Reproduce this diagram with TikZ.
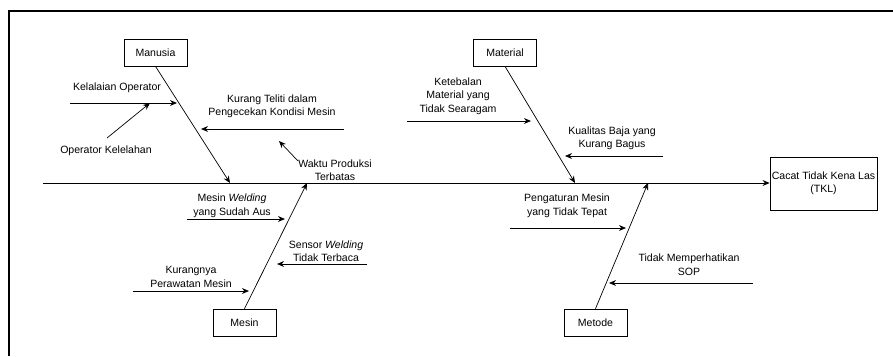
\documentclass[tikz,border=0pt]{standalone}
\usepackage{fontspec}
\setmainfont{Liberation Sans}
\usetikzlibrary{arrows.meta, positioning, calc}

\begin{document}
\begin{tikzpicture}[x=0.03cm, y=-0.03cm, line width=0.6pt,
        >={Stealth[length=6pt,width=5pt]},
        every node/.style={font=\fontsize{9}{11.5}\selectfont},
        category/.style={draw, minimum width=1.89cm, minimum height=0.81cm, inner sep=0pt},
        cause/.style={align=center, inner sep=0pt}]

            \useasboundingbox (0,0) rectangle (893,356);
            \draw[line width=1.6pt] (9,356) -- (9,11) -- (893,11);

            % kepala dan tulang utama
            \node[draw, align=center, inner sep=0pt, minimum width=3.21cm, minimum height=1.59cm] (tkl) at (823.5,183.5) {Cacat Tidak Kena Las\\(TKL)};
            \coordinate (tail) at (43,183);
            \draw[->] (tail) -- (tkl.west |- tail);

            % kategori
            \node[category] (manusia) at (155.5,52.5) {Manusia};
            \node[category] (material) at (505,52.5) {Material};
            \node[category] (mesin) at (244.5,322.5) {Mesin};
            \node[category] (metode) at (595.5,322.5) {Metode};

            \coordinate (sp1) at (230,183);
            \coordinate (sp2) at (307,183);
            \coordinate (sp3) at (575,183);
            \coordinate (sp4) at (648,183);

            \path[->]
            (manusia.south) edge (sp1)
            (mesin.north) edge (sp2)
            (material.south) edge (sp3)
            (metode.north) edge (sp4)
            ;

            % penyebab
            \node[cause] (kelalaian) at (117,88) {Kelalaian Operator};
            \node[cause] (kelelahan) at (106,151) {Operator Kelelahan};
            \node[cause] (teliti) at (272,106.5) {Kurang Teliti dalam\\Pengecekan Kondisi Mesin};
            \node[cause] (waktu) at (335,170) {Waktu Produksi\\Terbatas};
            \node[cause] (aus) at (232,206) {Mesin \textit{Welding}\\yang Sudah Aus};
            \node[cause] (sensor) at (326,251) {Sensor \textit{Welding}\\Tidak Terbaca};
            \node[cause] (rawat) at (191,277) {Kurangnya\\Perawatan Mesin};
            \node[cause] (tebal) at (458,96) {Ketebalan\\Material yang\\Tidak Searagam};
            \node[cause] (kualitas) at (612,138.5) {Kualitas Baja yang\\Kurang Bagus};
            \node[cause] (atur) at (567,206) {Pengaturan Mesin\\yang Tidak Tepat};
            \node[cause] (sop) at (689,264.5) {Tidak Memperhatikan\\SOP};

            \coordinate (a1) at (70,103);   \coordinate (b1) at (177,103);
            \coordinate (a2) at (107,138);  \coordinate (b2) at (150,103);
            \coordinate (a3) at (344,129);  \coordinate (b3) at (201,129);
            \coordinate (a4) at (298,161);  \coordinate (b4) at (279,141);
            \coordinate (a5) at (187,219);  \coordinate (b5) at (285,219);
            \coordinate (a6) at (367,264);  \coordinate (b6) at (277,264);
            \coordinate (a7) at (133,291);  \coordinate (b7) at (249,291);
            \coordinate (a8) at (407,121);  \coordinate (b8) at (531,121);
            \coordinate (a9) at (663,156);  \coordinate (b9) at (565,156);
            \coordinate (a10) at (510,228); \coordinate (b10) at (626,228);
            \coordinate (a11) at (753,283); \coordinate (b11) at (609,283);

            \path[->]
            (a1) edge (b1)
            (a2) edge (b2)
            (a3) edge (b3)
            (a4) edge (b4)
            (a5) edge (b5)
            (a6) edge (b6)
            (a7) edge (b7)
            (a8) edge (b8)
            (a9) edge (b9)
            (a10) edge (b10)
            (a11) edge (b11)
            ;
        \end{tikzpicture}
\end{document}
